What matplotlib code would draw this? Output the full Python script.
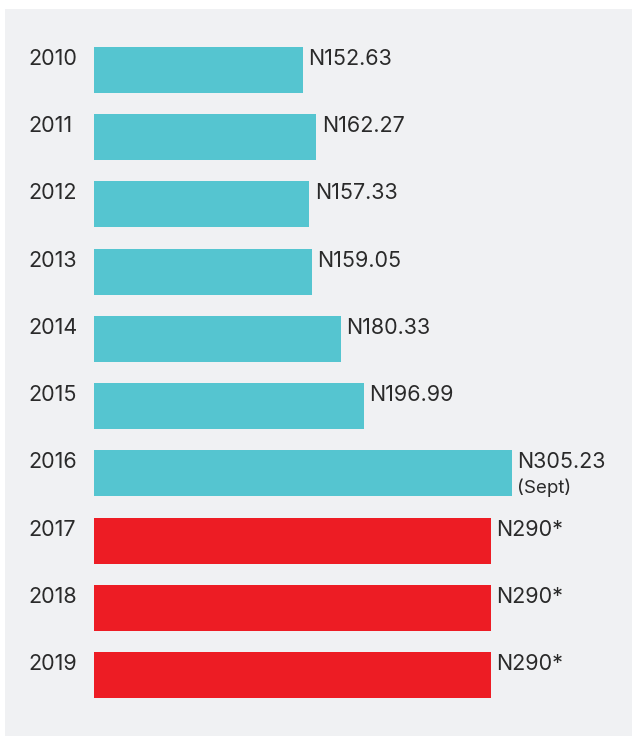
import matplotlib
matplotlib.use("Agg")
import matplotlib.pyplot as plt
from matplotlib.patches import Rectangle

# Данные
years = ['2010', '2011', '2012', '2013', '2014', '2015', '2016', '2017', '2018', '2019']
values = [152.63, 162.27, 157.33, 159.05, 180.33, 196.99, 305.23, 290, 290, 290]
labels = ['N152.63', 'N162.27', 'N157.33', 'N159.05', 'N180.33', 'N196.99', 'N305.23',
          'N290*', 'N290*', 'N290*']
notes = ['', '', '', '', '', '', '(Sept)', '', '', '']
colors = ['#55c5d0'] * 7 + ['#ed1c24'] * 3

plt.rcParams['font.family'] = ['Inter', 'DejaVu Sans']
text_color = '#2a2a2a'

fig = plt.figure(figsize=(6.33, 7.37), dpi=100, facecolor='white')

# Серая подложка
bg = Rectangle((5 / 633, 1 - 736 / 737), 627 / 633, 727 / 737,
               transform=fig.transFigure, facecolor='#f0f1f3',
               edgecolor='none', zorder=-10)
fig.add_artist(bg)

ax = fig.add_axes([94 / 633, 1 - 708.6 / 737, 538 / 633, 672.2 / 737])
ax.set_facecolor('none')
ax.set_zorder(5)

pos = list(range(len(years)))
ax.barh(pos, values, height=0.685, color=colors, left=0)
ax.set_xlim(0, 393)
ax.set_ylim(len(years) - 0.5, -0.5)
ax.axis('off')

for i, (y, v, lab, note) in enumerate(zip(years, values, labels, notes)):
    ax.text(-66 / 538 * 393, i - 0.075, y, ha='left', va='baseline',
            fontsize=15.5, color=text_color)
    ax.annotate(lab, (v, i - 0.075), xytext=(4, 0), textcoords='offset points',
                ha='left', va='baseline', fontsize=15.5, color=text_color)
    if note:
        ax.annotate(note, (v, i - 0.075), xytext=(4, -18), textcoords='offset points',
                    ha='left', va='baseline', fontsize=13.5, color=text_color)

fig.savefig('out.png', dpi=100, facecolor='white')
